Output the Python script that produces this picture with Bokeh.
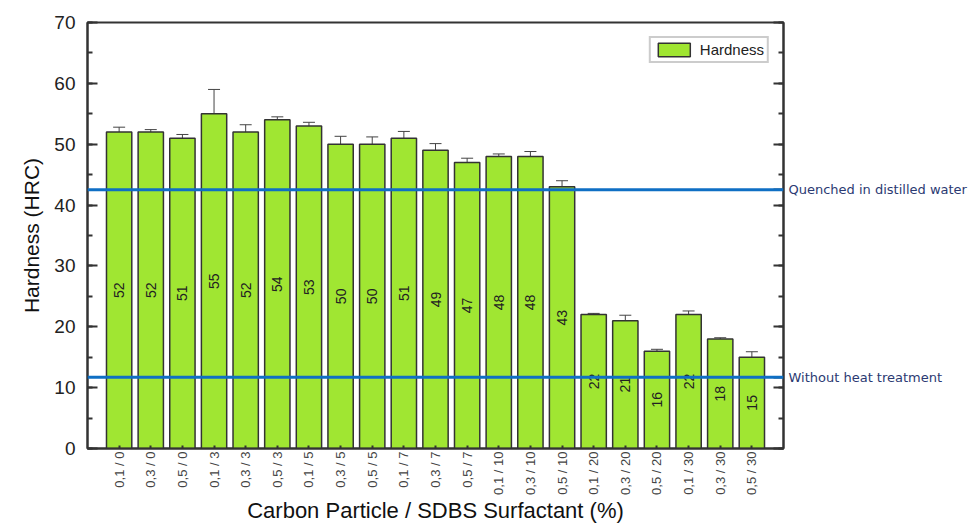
import math
from bokeh.plotting import figure
from bokeh.models import (ColumnDataSource, Whisker, Span, FixedTicker,
                          Legend, LegendItem, LinearAxis, Range1d)
from bokeh.core.properties import value
from bokeh.embed import file_html
from bokeh.resources import INLINE

categories = ["0,1 / 0", "0,3 / 0", "0,5 / 0", "0,1 / 3", "0,3 / 3", "0,5 / 3",
              "0,1 / 5", "0,3 / 5", "0,5 / 5", "0,1 / 7", "0,3 / 7", "0,5 / 7",
              "0,1 / 10", "0,3 / 10", "0,5 / 10", "0,1 / 20", "0,3 / 20", "0,5 / 20",
              "0,1 / 30", "0,3 / 30", "0,5 / 30"]
hardness = [52, 52, 51, 55, 52, 54, 53, 50, 50, 51, 49, 47, 48, 48, 43, 22, 21, 16, 22, 18, 15]
errors = [0.8, 0.4, 0.6, 4.0, 1.2, 0.5, 0.6, 1.3, 1.2, 1.1, 1.1, 0.7, 0.4, 0.8, 1.0,
          0.2, 0.9, 0.3, 0.6, 0.2, 0.9]
quenched_level = 42.5
untreated_level = 11.7
reference_levels = [quenched_level, untreated_level]
reference_names = ["Quenched in distilled water", "Without heat treatment"]
y_ticks = [0, 10, 20, 30, 40, 50, 60, 70]
y_minor = [0, 5, 10, 15, 20, 25, 30, 35, 40, 45, 50, 55, 60, 65, 70]

FONT = "Liberation Sans"
BAR = "#a0e632"
AX = "#333333"

xs = list(range(1, len(categories) + 1))
src = ColumnDataSource(dict(
    x=xs, top=hardness,
    upper=[h + e for h, e in zip(hardness, errors)],
    lower=[h - e for h, e in zip(hardness, errors)],
    ymid=[h / 2 for h in hardness],
    lab=[str(h) for h in hardness],
))

p = figure(width=975, height=525, output_backend="svg", toolbar_location=None,
           x_range=Range1d(0, len(categories) + 1), y_range=Range1d(0, 70),
           min_border_left=87, min_border_right=192, min_border_top=22,
           min_border_bottom=0)
p.background_fill_color = "white"
p.border_fill_color = "white"
p.outline_line_color = AX
p.outline_line_width = 2
p.grid.visible = False

bars = p.vbar(x="x", top="top", width=0.8, source=src, fill_color=BAR,
              line_color=AX, line_width=1.5)

w = Whisker(base="x", upper="upper", lower="lower", source=src,
            line_color="#444444", line_width=1)
w.upper_head.size = 12
w.lower_head.size = 12
w.upper_head.line_color = "#444444"
w.lower_head.line_color = "#444444"
p.add_layout(w)

p.text(x="x", y="ymid", text="lab", source=src, angle=math.pi / 2,
       text_align="center", text_baseline="middle", text_font=value(FONT),
       text_font_size="14px", text_color="#222222")

for lvl in reference_levels:
    p.add_layout(Span(location=lvl, dimension="width", line_color="#0f6fc4",
                      line_width=3))

# Y axis
yax = p.yaxis[0]
yax.ticker = FixedTicker(ticks=y_ticks, minor_ticks=y_minor)
yax.axis_label = "Hardness (HRC)"
yax.axis_label_text_font = FONT
yax.axis_label_text_font_style = "normal"
yax.axis_label_text_font_size = "21px"
yax.axis_label_text_color = "#111111"
yax.axis_label_standoff = 8
yax.major_label_text_font = FONT
yax.major_label_text_font_size = "19px"
yax.major_label_text_color = "#222222"
yax.major_tick_in = 10
yax.major_tick_out = 0
yax.minor_tick_in = 5
yax.minor_tick_out = 0
yax.axis_line_width = 2
yax.axis_line_color = AX
yax.major_tick_line_width = 2
yax.minor_tick_line_width = 2
yax.major_tick_line_color = AX
yax.minor_tick_line_color = AX
yax.major_label_standoff = 12

# right axis: ticks + reference-line labels
overrides = {t: "" for t in y_ticks}
for lvl, name in zip(reference_levels, reference_names):
    overrides[lvl] = name
rax = LinearAxis(ticker=FixedTicker(ticks=y_ticks + reference_levels, minor_ticks=y_minor),
                 major_label_overrides=overrides,
                 major_label_text_font="DejaVu Sans",
                 major_label_text_font_size="13px",
                 major_label_text_color="#2b3a72",
                 major_label_standoff=5,
                 major_tick_in=10, major_tick_out=0,
                 minor_tick_in=5, minor_tick_out=0, axis_line_width=2,
                 axis_line_color=AX, major_tick_line_width=2,
                 minor_tick_line_width=2, major_tick_line_color=AX,
                 minor_tick_line_color=AX)
p.add_layout(rax, "right")

# X axis
xax = p.xaxis[0]
xax.ticker = FixedTicker(ticks=xs, minor_ticks=[])
xax.major_label_overrides = {x: c for x, c in zip(xs, categories)}
xax.major_label_orientation = math.pi / 2
xax.major_label_text_font = FONT
xax.major_label_text_font_size = "13px"
xax.major_label_text_color = "#444444"
xax.major_label_standoff = 3
xax.major_tick_in = 3
xax.major_tick_out = 0
xax.major_tick_line_color = AX
xax.major_tick_line_width = 2
xax.axis_line_width = 2
xax.axis_line_color = AX
xax.axis_label = "Carbon Particle / SDBS Surfactant (%)"
xax.axis_label_text_font = FONT
xax.axis_label_text_font_style = "normal"
xax.axis_label_text_font_size = "22px"
xax.axis_label_text_color = "#111111"
xax.axis_label_standoff = 0

legend = Legend(items=[LegendItem(label="Hardness", renderers=[bars])],
                location="top_right", label_text_font=FONT,
                label_text_font_size="15px", label_text_color="#222222",
                border_line_color="#999999", border_line_width=2,
                glyph_width=40, glyph_height=17, padding=3, spacing=0,
                margin=14, label_standoff=6, label_height=17)
p.add_layout(legend)

open("out.html", "w").write(file_html(p, INLINE))
